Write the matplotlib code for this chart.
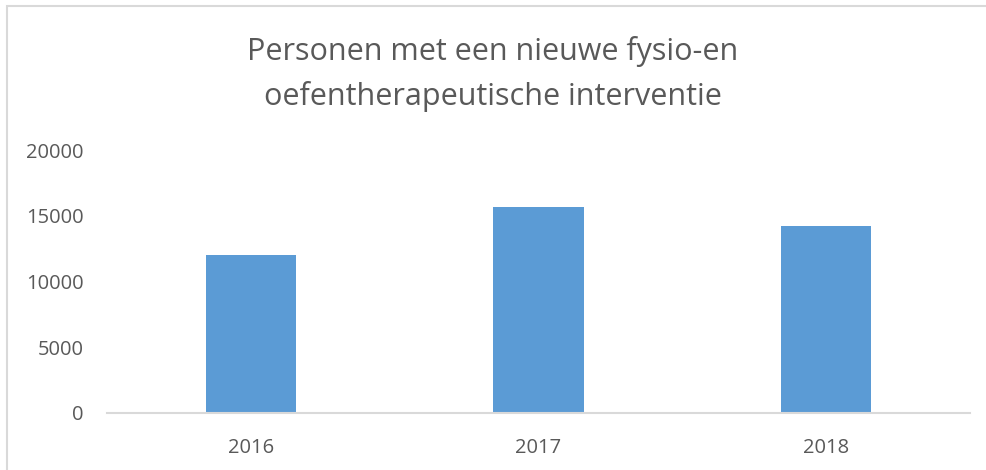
import matplotlib.pyplot as plt
from matplotlib.patches import Rectangle

# data
years = ['2016', '2017', '2018']
persons = [12050, 15650, 14200]
yticks = [0, 5000, 10000, 15000, 20000]

TITLE = 'Personen met een nieuwe fysio-en\noefentherapeutische interventie'
BAR_COLOR = '#5B9BD5'
TEXT_COLOR = '#595959'
LINE_COLOR = '#D9D9D9'

plt.rcParams['font.family'] = ['Open Sans', 'DejaVu Sans']

W, H = 986, 470
fig = plt.figure(figsize=(W / 100, H / 100), dpi=100)

# axes placed in pixel coords: x 107..970, y 150..413 (from top)
ax = fig.add_axes([107 / W, 1 - 413 / H, (970 - 107) / W, (413 - 150) / H])

x = range(len(years))
ax.bar(x, persons, width=0.313, color=BAR_COLOR, zorder=2)
ax.set_xlim(-0.5, len(years) - 0.5)
ax.set_ylim(0, 20000)
ax.set_xticks(list(x))
ax.set_xticklabels(years)
ax.set_yticks(yticks)
ax.set_yticklabels([str(v) for v in yticks])
ax.tick_params(axis='both', length=0, labelsize=14.5, colors=TEXT_COLOR)
ax.tick_params(axis='y', pad=17)
ax.tick_params(axis='x', pad=18)

for s in ['top', 'right', 'left']:
    ax.spines[s].set_visible(False)
ax.spines['bottom'].set_color(LINE_COLOR)
ax.spines['bottom'].set_linewidth(1.5)

fig.text(0.5, 1 - 74 / H, TITLE, ha='center', va='center', fontsize=22,
         color=TEXT_COLOR, linespacing=1.55)

# chart border (partly cropped in the reference)
fig.patches.append(Rectangle((7 / W, -0.1), 1.1, 1 - 6 / H + 0.1,
                             transform=fig.transFigure, fill=False,
                             edgecolor=LINE_COLOR, linewidth=1.5))

fig.savefig('out.png', dpi=100)
